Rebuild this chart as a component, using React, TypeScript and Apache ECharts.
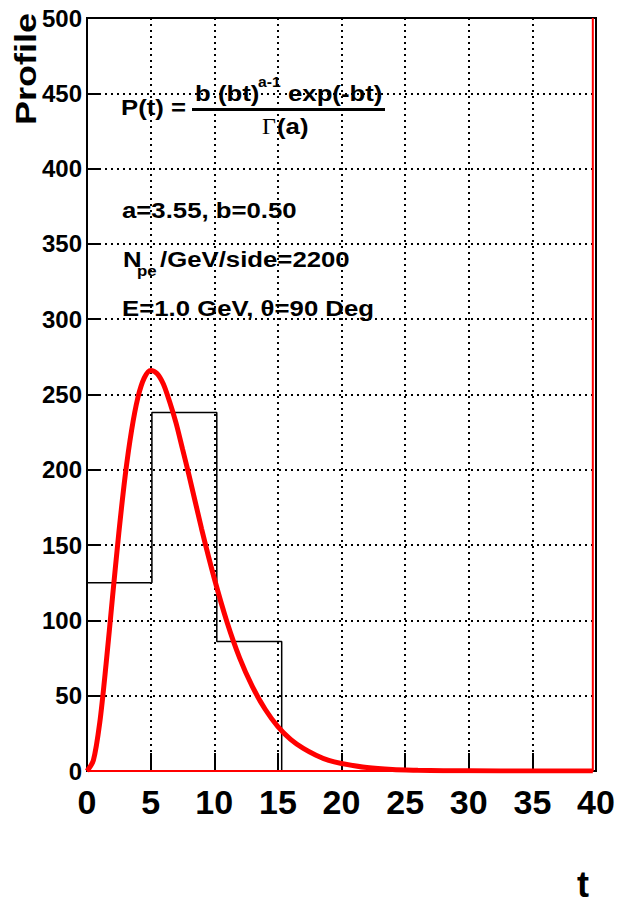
import React, { useEffect, useRef } from "react";
import * as echarts from "echarts";

// Profile curve
const tValues = [0, 0.5, 1, 1.5, 2, 2.5, 3, 3.5, 4, 4.5, 5, 5.5, 6, 6.5, 7, 7.5, 8, 9, 10, 11, 12, 13, 14, 15, 16, 17, 18, 19, 20, 22, 24, 26, 28, 30, 35, 39.75];
const profileValues = [0, 7, 32, 71, 115, 158, 196, 226, 248, 261, 266, 264, 257, 245, 231, 214, 197, 161, 128, 99, 75, 56, 41, 29.5, 21, 15, 10.5, 7, 5, 2.3, 1, 0.5, 0.2, 0.1, 0, 0];

// Histogram
const binEdges = [0, 5.1, 10.2, 15.3];
const binCounts = [125, 238, 86];

const xTicks = { min: 0, max: 40, interval: 5 };
const yTicks = { min: 0, max: 500, interval: 50 };

const FONT = "'Liberation Sans', Arial, Helvetica, sans-serif";

function txt(text: string, x: number, y: number, size: number, opts: any = {}) {
  const align = opts.align || "left";
  const valign = opts.valign || "middle";
  return {
    type: "text",
    x,
    y,
    rotation: opts.rotation || 0,
    scaleX: opts.scaleX || 1.12,
    scaleY: 1,
    z: 100,
    style: {
      text,
      font: `${opts.weight || "bold"} ${size}px ${opts.family || FONT}`,
      fill: "#000",
      align,
      verticalAlign: valign,
      textAlign: align,
      textVerticalAlign: valign,
    },
  };
}

export default function App() {
  const ref = useRef<HTMLDivElement>(null);
  useEffect(() => {
    if (!ref.current) return;
    const chart = echarts.init(ref.current, undefined, { renderer: "svg" });

    const curve = tValues.map((t, i) => [t, profileValues[i]]);
    const hist: number[][] = [[binEdges[0], 0]];
    binCounts.forEach((c, i) => {
      hist.push([binEdges[i], c]);
      hist.push([binEdges[i + 1], c]);
    });
    hist.push([binEdges[binEdges.length - 1], 0]);

    const grid = { left: 87, top: 18, width: 509, height: 753 };

    chart.setOption({
      animation: false,
      backgroundColor: "#fff",
      grid: { ...grid, show: true, borderColor: "#000", borderWidth: 2, backgroundColor: "transparent" },
      xAxis: {
        type: "value",
        min: xTicks.min,
        max: xTicks.max,
        interval: xTicks.interval,
        axisLine: { show: true, lineStyle: { color: "#000", width: 2 } },
        axisTick: { show: true, inside: true, length: 18, lineStyle: { color: "#000", width: 2 } },
        axisLabel: { color: "#000", fontSize: 34, fontWeight: "bold", fontFamily: FONT, margin: 14 },
        splitLine: { show: true, lineStyle: { color: "#000", width: 2, type: [2, 4] } },
      },
      yAxis: {
        type: "value",
        min: yTicks.min,
        max: yTicks.max,
        interval: yTicks.interval,
        axisLine: { show: true, lineStyle: { color: "#000", width: 2 } },
        axisTick: { show: true, inside: true, length: 13, lineStyle: { color: "#000", width: 2 } },
        axisLabel: { color: "#000", fontSize: 24, fontWeight: "bold", fontFamily: FONT, margin: 5 },
        splitLine: { show: true, lineStyle: { color: "#000", width: 2, type: [2, 4] } },
      },
      series: [
        {
          type: "line",
          data: hist,
          symbol: "none",
          lineStyle: { color: "#000", width: 1.5 },
          z: 3,
        },
        {
          type: "line",
          data: [[0, 0], [39.75, 0], [39.75, 500]],
          symbol: "none",
          clip: false,
          lineStyle: { color: "#ff0000", width: 2 },
          z: 4,
        },
        {
          type: "line",
          data: curve,
          symbol: "none",
          smooth: 0.3,
          lineStyle: { color: "#ff0000", width: 5 },
          z: 5,
        },
      ],
      graphic: [
        txt("Profile", 26, 69, 29, { rotation: Math.PI / 2, align: "center", scaleX: 1.24 }),
        txt("t", 583, 884, 36, { align: "center", scaleX: 1 }),
        txt("P(t) =", 121, 107, 23),
        txt("b (bt)", 195, 93, 23),
        txt("a-1", 258, 82, 14),
        txt("exp(-bt)", 288, 93, 23),
        {
          type: "rect",
          z: 100,
          shape: { x: 192, y: 108, width: 193, height: 3 },
          style: { fill: "#000" },
        },
        txt("Γ", 262, 126, 24, { weight: "normal", family: "'Liberation Serif', 'Times New Roman', serif", scaleX: 1 }),
        txt("(a)", 277, 126, 23),
        txt("a=3.55, b=0.50", 122, 210, 23),
        txt("N", 123, 259, 23),
        txt("pe", 137, 271, 15),
        txt("/GeV/side=2200", 160, 259, 23),
        txt("E=1.0 GeV, θ=90 Deg", 122, 308, 23),
      ],
    });
    return () => chart.dispose();
  }, []);
  return <div ref={ref} style={{ position: "absolute", left: 0, top: 0, width: 620, height: 908 }} />;
}
